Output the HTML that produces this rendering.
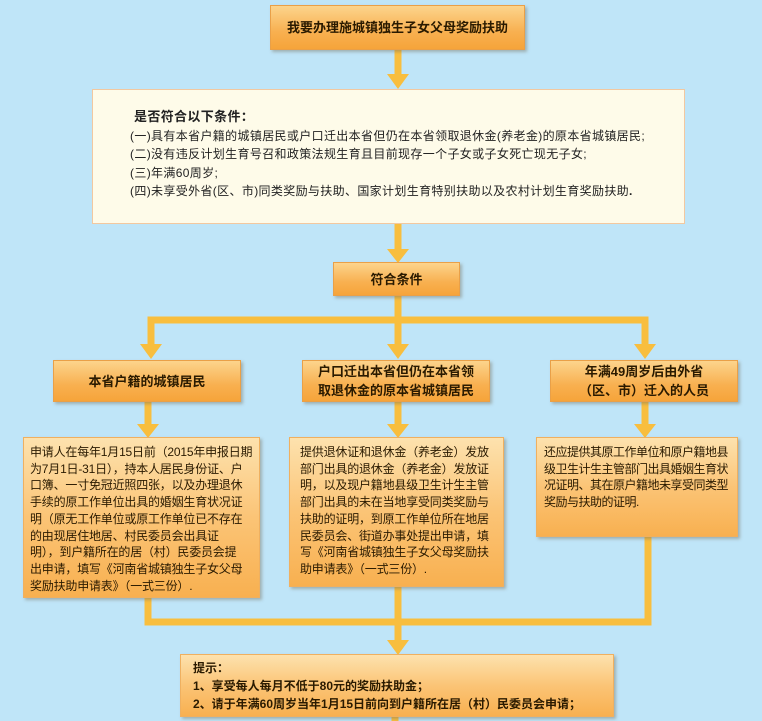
<!DOCTYPE html>
<html><head><meta charset="utf-8"><style>
body{margin:0;width:762px;height:721px;overflow:hidden;background:#bfe5f8;font-family:"Liberation Sans","Noto Sans CJK SC",sans-serif;position:relative}
.b{position:absolute;box-sizing:border-box;background:linear-gradient(#fcd48c,#f8b050 60%,#f6a43a);border:1px solid #e9a048;box-shadow:2px 2px 3px rgba(120,110,90,.45);color:#2a1a00;font-weight:bold;font-size:13px;display:flex;align-items:center;justify-content:center;text-align:center;line-height:19px}
.t{position:absolute;box-sizing:border-box;background:linear-gradient(#fde2ae,#fbc476 50%,#f8b050);border:1px solid #efb060;box-shadow:2px 2px 3px rgba(120,110,90,.45);color:#2a1a00;font-size:12px;line-height:16.7px;padding:6px 2px 6px 6px;letter-spacing:-0.2px;white-space:nowrap;overflow:hidden}
svg{position:absolute;left:0;top:0}
</style></head><body>
<svg width="762" height="721">
<g fill="none" stroke="#f8be3e" stroke-width="7">
<path d="M398 50V75"/>
<path d="M398 224V250"/>
<path d="M398 296V345 M151 345V320H645V345"/>
<path d="M148 402V425 M398 402V425 M645 402V425"/>
<path d="M148 598V622H648V537 M398 587V640 M395 717V721"/>
</g>
<g fill="#f8be3e">
<polygon points="387,74 409,74 398,89"/>
<polygon points="387,249 409,249 398,263"/>
<polygon points="140,344 162,344 151,359"/>
<polygon points="387,344 409,344 398,359"/>
<polygon points="634,344 656,344 645,359"/>
<polygon points="137,424 159,424 148,438"/>
<polygon points="387,424 409,424 398,438"/>
<polygon points="634,424 656,424 645,438"/>
<polygon points="387,640 409,640 398,655"/>
</g>
</svg>
<div class="b" style="left:270px;top:5px;width:255px;height:45px">我要办理施城镇独生子女父母奖励扶助</div>
<div style="position:absolute;left:92px;top:89px;width:593px;height:135px;box-sizing:border-box;background:#fefbe9;border:1px solid #f2c8a0;font-size:12px;line-height:18.5px;color:#222;padding:18px 0 0 37px;letter-spacing:0.35px">
<div style="font-weight:bold;font-size:13px;padding-left:4px">是否符合以下条件：</div>
<div>(一)具有本省户籍的城镇居民或户口迁出本省但仍在本省领取退休金(养老金)的原本省城镇居民;</div>
<div>(二)没有违反计划生育号召和政策法规生育且目前现存一个子女或子女死亡现无子女;</div>
<div>(三)年满60周岁;</div>
<div>(四)未享受外省(区、市)同类奖励与扶助、国家计划生育特别扶助以及农村计划生育奖励扶助<b>.</b></div>
</div>
<div class="b" style="left:333px;top:262px;width:127px;height:34px">符合条件</div>
<div class="b" style="left:53px;top:360px;width:188px;height:42px">本省户籍的城镇居民</div>
<div class="b" style="left:302px;top:360px;width:188px;height:42px">户口迁出本省但仍在本省领<br>取退休金的原本省城镇居民</div>
<div class="b" style="left:550px;top:360px;width:188px;height:42px">年满49周岁后由外省<br>（区、市）迁入的人员</div>
<div class="t" style="left:23px;top:437px;width:237px;height:161px">申请人在每年1月15日前（2015年申报日期<br>为7月1日-31日），持本人居民身份证、户<br>口簿、一寸免冠近照四张，以及办理退休<br>手续的原工作单位出具的婚姻生育状况证<br>明（原无工作单位或原工作单位已不存在<br>的由现居住地居、村民委员会出具证<br>明），到户籍所在的居（村）民委员会提<br>出申请，填写《河南省城镇独生子女父母<br>奖励扶助申请表》（一式三份）.</div>
<div class="t" style="left:289px;top:437px;width:215px;height:150px;padding-left:10px">提供退休证和退休金（养老金）发放<br>部门出具的退休金（养老金）发放证<br>明，以及现户籍地县级卫生计生主管<br>部门出具的未在当地享受同类奖励与<br>扶助的证明，到原工作单位所在地居<br>民委员会、街道办事处提出申请，填<br>写《河南省城镇独生子女父母奖励扶<br>助申请表》（一式三份）.</div>
<div class="t" style="left:536px;top:437px;width:202px;height:100px;padding-left:7px;letter-spacing:-0.5px">还应提供其原工作单位和原户籍地县<br>级卫生计生主管部门出具婚姻生育状<br>况证明、其在原户籍地未享受同类型<br>奖励与扶助的证明.</div>
<div class="t" style="left:180px;top:654px;width:434px;height:63px;font-weight:bold;padding:4px 12px;line-height:18px;letter-spacing:0">提示：<br>1、享受每人每月不低于80元的奖励扶助金；<br>2、请于年满60周岁当年1月15日前向到户籍所在居（村）民委员会申请；</div>
</body></html>
